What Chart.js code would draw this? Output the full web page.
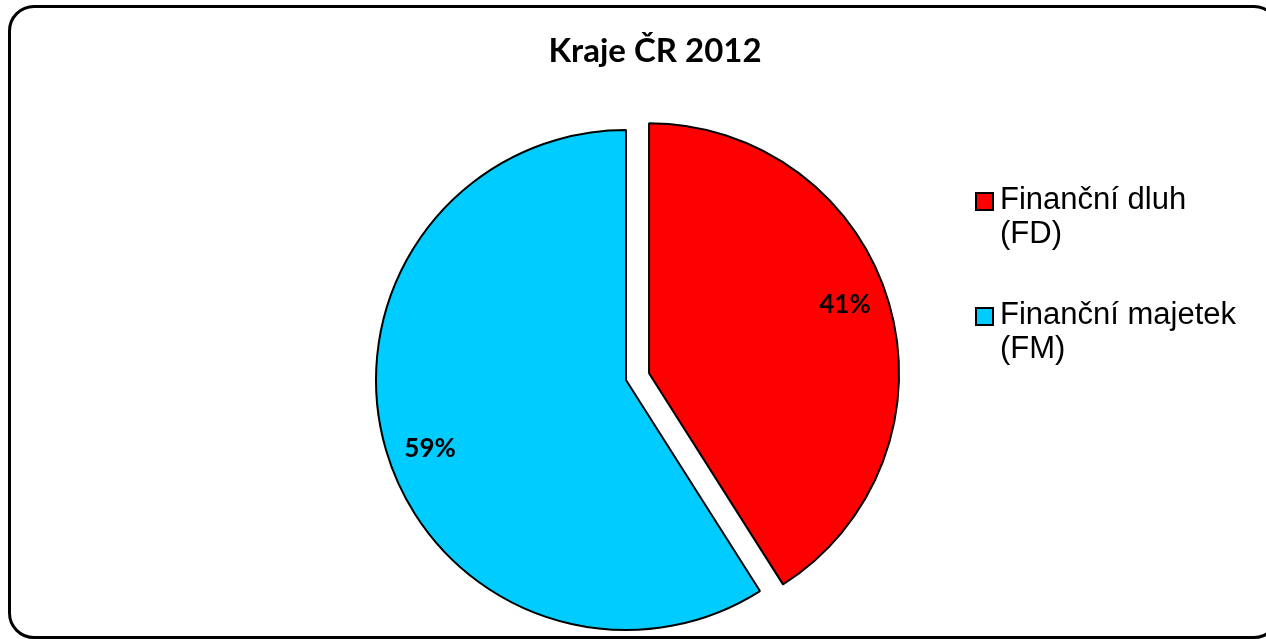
<!DOCTYPE html>
<html>
<head>
<meta charset="utf-8">
<title>Kraje ČR 2012</title>
<script src="https://cdn.jsdelivr.net/npm/chart.js@4/dist/chart.umd.min.js"></script>
<style>
    html, body { margin: 0; padding: 0; background: #fff; overflow: hidden; }
    #wrap { position: absolute; left: 0; top: 0; width: 1266px; height: 639px; }
    #pieChart { position: absolute; left: 0; top: 0; }
    #frame {
        position: absolute; left: 8px; top: 5px; width: 1272px; height: 634px;
        box-sizing: border-box; border: 3px solid #000; border-radius: 26px;
    }
</style>
</head>
<body>
<div id="wrap">
    <canvas id="pieChart" width="1266" height="639"></canvas>
    <div id="frame"></div>
</div>
<script>
// Data
const chartTitle = "Kraje ČR 2012";
const categories = ["Finanční dluh (FD)", "Finanční majetek (FM)"];
const legendLines = [["Finanční dluh", "(FD)"], ["Finanční majetek", "(FM)"]];
const shares = [41, 59];
const sliceColors = ["#ff0000", "#00ccff"];

const EXPLODE_PX = 24;      // first slice pulled out
const LABEL_RADIUS = 0.83;  // percent labels, fraction of radius
const LABEL_TURN = -3 * Math.PI / 180; // labels sit a bit before the middle angle

// Pull the first slice out along its middle angle
const explodePlugin = {
    id: "explode",
    afterDatasetUpdate(chart, args) {
        const arc = chart.getDatasetMeta(args.index).data[0];
        const mid = (arc.startAngle + arc.endAngle) / 2;
        arc.x += Math.cos(mid) * EXPLODE_PX;
        arc.y += Math.sin(mid) * EXPLODE_PX;
    }
};

// Percent labels inside the slices
const percentLabels = {
    id: "percentLabels",
    afterDatasetsDraw(chart) {
        const ctx = chart.ctx;
        const values = chart.data.datasets[0].data;
        const total = values.reduce((a, b) => a + b, 0);
        ctx.save();
        ctx.font = "bold 26px Lato, 'Open Sans', sans-serif";
        ctx.fillStyle = "#000";
        ctx.textAlign = "center";
        ctx.textBaseline = "middle";
        chart.getDatasetMeta(0).data.forEach((arc, i) => {
            const mid = (arc.startAngle + arc.endAngle) / 2 + LABEL_TURN;
            const r = arc.outerRadius * LABEL_RADIUS;
            const pct = Math.round(values[i] / total * 100) + "%";
            ctx.fillText(pct, arc.x + Math.cos(mid) * r, arc.y + Math.sin(mid) * r);
        });
        ctx.restore();
    }
};

// Title and the two-line legend on the right
const titleAndLegend = {
    id: "titleAndLegend",
    afterDraw(chart) {
        const ctx = chart.ctx;
        ctx.save();
        ctx.fillStyle = "#000";
        ctx.textAlign = "center";
        ctx.textBaseline = "alphabetic";
        ctx.font = "bold 33px Lato, 'Open Sans', sans-serif";
        ctx.fillText(chartTitle, 655, 62);

        ctx.textAlign = "left";
        ctx.font = "31px 'Liberation Sans', Arial, sans-serif";
        legendLines.forEach((lines, i) => {
            const base = 209 + i * 115;
            ctx.fillStyle = sliceColors[i];
            ctx.fillRect(976, base - 16, 17, 17);
            ctx.lineWidth = 2;
            ctx.strokeStyle = "#000";
            ctx.strokeRect(976, base - 16, 17, 17);
            ctx.fillStyle = "#000";
            lines.forEach((t, j) => ctx.fillText(t, 1000, base + j * 34));
        });
        ctx.restore();
    }
};

new Chart(document.getElementById("pieChart").getContext("2d"), {
    type: "pie",
    data: {
        labels: categories,
        datasets: [{
            data: shares,
            backgroundColor: sliceColors,
            borderColor: "#000",
            borderWidth: 2
        }]
    },
    options: {
        responsive: false,
        animation: false,
        radius: 250,
        layout: { padding: { left: 0, right: 14, top: 121, bottom: 0 } },
        plugins: {
            legend: { display: false },
            title: { display: false },
            tooltip: { enabled: false }
        }
    },
    plugins: [explodePlugin, percentLabels, titleAndLegend]
});
</script>
</body>
</html>
